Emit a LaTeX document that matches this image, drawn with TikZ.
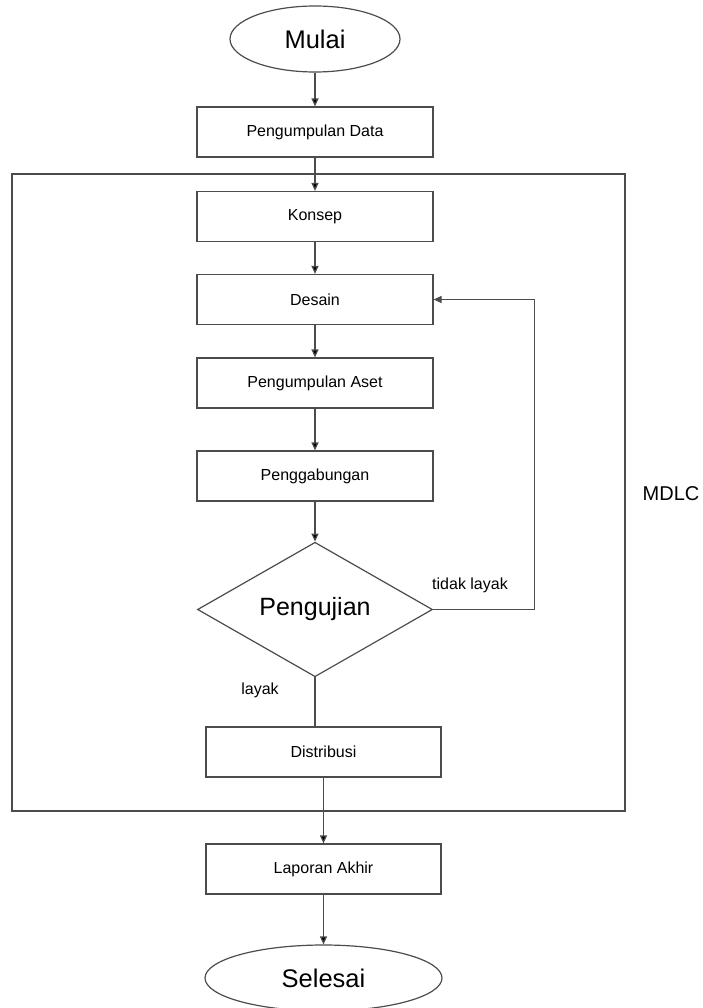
\documentclass[tikz,border=0pt]{standalone}
\usepackage{fontspec}
\setsansfont{Liberation Sans}
\usetikzlibrary{shapes.geometric,arrows.meta}
\begin{document}
\begin{tikzpicture}[x=1pt,y=-1pt,
                    line width=1.2pt,
                    box/.style = {shape = rectangle,
                                  draw = black!70,
                                  minimum width = 236pt,
                                  minimum height = 50pt,
                                  inner sep=0pt,
                                  font=\fontsize{16}{19}\selectfont\sffamily},
                    term/.style = {shape = ellipse,
                                   draw = black!70,
                                   minimum height = 66pt,
                                   inner sep=0pt,
                                   font=\fontsize{25.5}{30}\selectfont\sffamily},
                    cond/.style = {shape = diamond,
                                   draw = black!70,
                                   minimum width = 235pt,
                                   minimum height = 133pt,
                                   inner sep=0pt,
                                   font=\fontsize{25}{30}\selectfont\sffamily},
                    lbl/.style = {font=\fontsize{16}{19}\selectfont\sffamily},
                    arr/.style = {draw = black!70, -{Triangle[length=8pt,width=7pt]}},
                    ln/.style = {draw = black!70}]
		\useasboundingbox (0,0) rectangle (702,1008);
		% frame of the MDLC stages
		\node[draw = black!70, minimum width=613pt, minimum height=637pt, inner sep=0pt] (mdlc) at (318.5,492.5) {};
		\node[lbl, font=\fontsize{20}{24}\selectfont\sffamily] (mdlclabel) at (671,494) {MDLC};
		\node[term, minimum width=170pt] (mulai) at (315,39) {Mulai};
		\node[box] (data) at (315,132) {Pengumpulan Data};
		\node[box] (konsep) at (315,216.5) {Konsep};
		\node[box] (desain) at (315,299.5) {Desain};
		\node[box] (aset) at (315,383) {Pengumpulan Aset};
		\node[box] (gabung) at (315,476) {Penggabungan};
		\node[cond] (uji) at (315,609.5) {Pengujian};
		\node[box, minimum width=235pt] (distribusi) at (323.5,752) {Distribusi};
		\node[box, minimum width=235pt] (laporan) at (323.5,869) {Laporan Akhir};
		\node[term, minimum width=237pt] (selesai) at (323.5,978) {Selesai};
		\node[lbl] (tidak) at (470,585) {tidak layak};
		\node[lbl] (layak) at (260,690) {layak};
		\path[arr] (mulai) edge (data);
		\path[arr] (data) edge (konsep);
		\path[arr] (konsep) edge (desain);
		\path[arr] (desain) edge (aset);
		\path[arr] (aset) edge (gabung);
		\path[arr] (gabung) edge (uji);
		\draw[arr] (uji.east) -- ++(101,0) |- (desain.east);
		\draw[ln] (uji.south) -- (uji.south |- distribusi.north);
		\path[arr] (distribusi) edge (laporan);
		\path[arr] (laporan) edge (selesai);
	\end{tikzpicture}
\end{document}
